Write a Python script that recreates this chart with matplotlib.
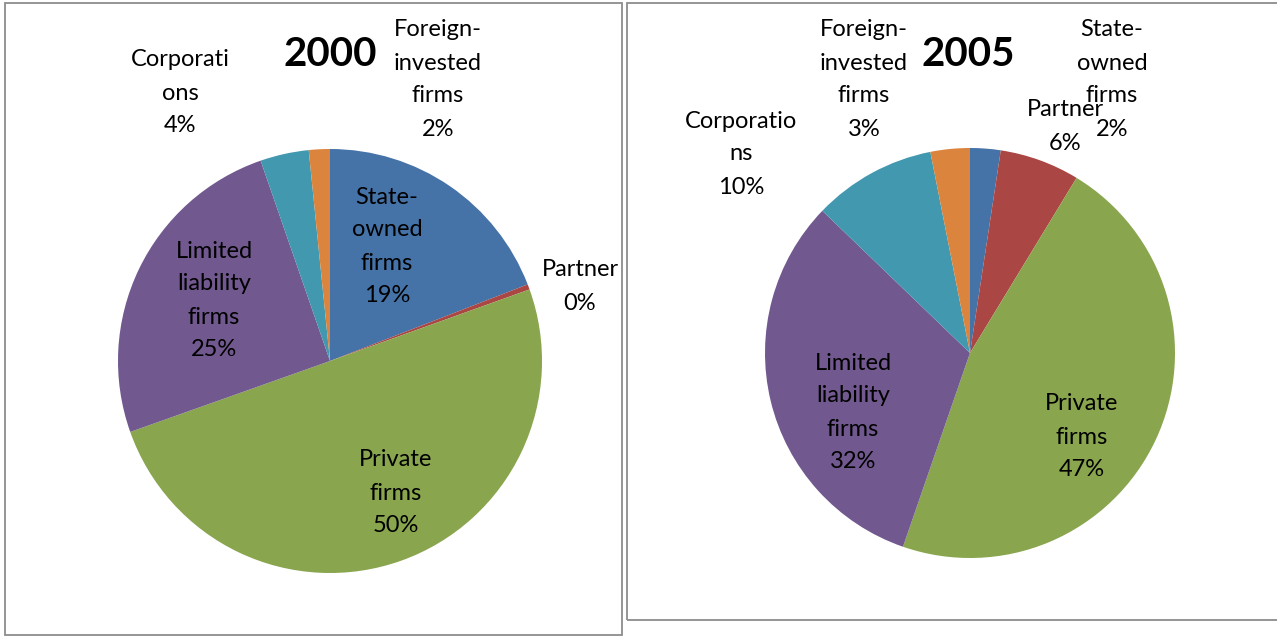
import matplotlib.pyplot as plt
from matplotlib.patches import Rectangle

# firm ownership shares, slices run clockwise from 12 o'clock
categories = ['State-owned firms', 'Partner', 'Private firms',
              'Limited liability firms', 'Corporations', 'Foreign-invested firms']
share_2000 = [19.1, 0.4, 50.0, 25.1, 3.7, 1.6]
share_2005 = [2.4, 6.3, 46.6, 31.9, 9.7, 3.1]

# category names as wrapped in each chart
names_2000 = ['State-\nowned\nfirms', 'Partner', 'Private\nfirms',
              'Limited\nliability\nfirms', 'Corporati\nons', 'Foreign-\ninvested\nfirms']
names_2005 = ['State-\nowned\nfirms', 'Partner', 'Private\nfirms',
              'Limited\nliability\nfirms', 'Corporatio\nns', 'Foreign-\ninvested\nfirms']

colors = ['#4572A7', '#AA4643', '#89A54E', '#71588F', '#4198AF', '#DB843D']

W, H = 1277, 637
fig = plt.figure(figsize=(W / 100, H / 100), dpi=100)
ax = fig.add_axes([0, 0, 1, 1])
ax.set_xlim(0, W)
ax.set_ylim(0, H)
ax.set_aspect('equal')
ax.axis('off')

# panel frames
ax.add_patch(Rectangle((5, H - 635), 617, 632, fill=False, ec='#8c8c8c', lw=1.3))
ax.add_patch(Rectangle((627, H - 620), 700, 617, fill=False, ec='#8c8c8c', lw=1.3))

FONT = 'Lato'
FS = 17
LINE = 33


def put_label(x, y_top, text):
    for i, line in enumerate(text.split('\n')):
        ax.text(x, H - y_top - i * LINE, line, ha='center', va='center',
                fontsize=FS, family=FONT, color='black')


def draw(values, names, center, radius, title, title_xy, label_xy):
    ax.pie(values, colors=colors, startangle=90, counterclock=False,
           center=(center[0], H - center[1]), radius=radius,
           wedgeprops=dict(linewidth=0), frame=True)
    ax.text(title_xy[0], H - title_xy[1], title, ha='center', va='center',
            fontsize=29, fontweight='bold', family=FONT)
    for v, n, (x, y) in zip(values, names, label_xy):
        put_label(x, y, n + '\n' + f'{v:.0f}%')


draw(share_2000, names_2000, (330, 361), 212, '2000', (330, 55),
     [(387, 197), (580, 270), (396, 460), (214, 251), (180, 60), (438, 30)])
draw(share_2005, names_2005, (970, 353), 205, '2005', (968, 55),
     [(1112, 30), (1065, 110), (1082, 404), (853, 363), (741, 121), (864, 30)])

ax.set_xlim(0, W)
ax.set_ylim(0, H)
ax.axis('off')

fig.savefig('out.png', dpi=100, facecolor='white')
